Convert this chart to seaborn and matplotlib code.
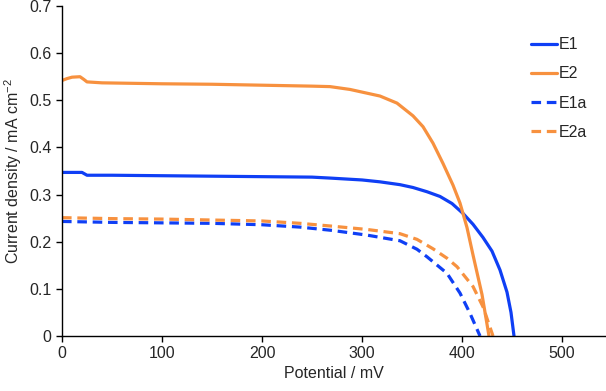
import matplotlib
matplotlib.use('Agg')
import matplotlib.pyplot as plt
import seaborn as sns
import pandas as pd

e1_mv = [0, 10, 20, 25, 50, 100, 150, 200, 250, 268, 300, 318, 338, 351, 365, 378, 390, 401, 411, 421, 430, 438, 445, 449, 452]
e1_j = [0.347, 0.347, 0.347, 0.341, 0.341, 0.340, 0.339, 0.338, 0.337, 0.335, 0.331, 0.327, 0.321, 0.315, 0.306, 0.296, 0.281, 0.260, 0.237, 0.209, 0.180, 0.140, 0.093, 0.050, 0.0]

e2_mv = [0, 5, 10, 18, 22, 25, 40, 100, 150, 200, 250, 268, 288, 318, 335, 351, 361, 371, 381, 391, 398, 405, 411, 420, 427]
e2_j = [0.542, 0.546, 0.549, 0.550, 0.544, 0.539, 0.537, 0.535, 0.534, 0.532, 0.530, 0.529, 0.523, 0.509, 0.494, 0.467, 0.444, 0.409, 0.366, 0.320, 0.282, 0.230, 0.172, 0.088, 0.0]

e1a_mv = [0, 50, 100, 150, 200, 238, 270, 305, 338, 355, 365, 385, 398, 408, 418]
e1a_j = [0.243, 0.241, 0.240, 0.239, 0.236, 0.231, 0.224, 0.214, 0.202, 0.184, 0.168, 0.133, 0.091, 0.048, 0.0]

e2a_mv = [0, 50, 100, 150, 200, 238, 270, 305, 338, 355, 371, 385, 395, 411, 421, 431]
e2a_j = [0.251, 0.249, 0.248, 0.246, 0.244, 0.239, 0.233, 0.226, 0.217, 0.205, 0.185, 0.165, 0.147, 0.105, 0.062, 0.0]

series = ['E1', 'E2', 'E1a', 'E2a']

frames = []
for name, x, y in zip(series, [e1_mv, e2_mv, e1a_mv, e2a_mv], [e1_j, e2_j, e1a_j, e2a_j]):
    frames.append(pd.DataFrame({'Potential': x, 'Current': y, 'series': name}))
df = pd.concat(frames, ignore_index=True)

sns.set_style('ticks')
plt.rcParams['font.family'] = ['Liberation Sans', 'DejaVu Sans']
plt.rcParams['mathtext.fontset'] = 'custom'
plt.rcParams['mathtext.rm'] = 'Liberation Sans'
plt.rcParams['mathtext.it'] = 'Liberation Sans'

blue = '#0F3FF5'
orange = '#F7913F'
palette = {'E1': blue, 'E2': orange, 'E1a': blue, 'E2a': orange}
dashes = {'E1': '', 'E2': '', 'E1a': (3, 1.8), 'E2a': (3, 1.8)}

fig = plt.figure(figsize=(6.06, 3.91), dpi=100)
ax = fig.add_axes([62/606, 55/391, 543/606, 330/391])
sns.lineplot(data=df, x='Potential', y='Current', hue='series', style='series',
             palette=palette, dashes=dashes, hue_order=series, style_order=series,
             estimator=None, sort=False, linewidth=2.3, ax=ax)

ax.set_xlim(0, 543)
ax.set_ylim(0, 0.7)
ax.set_xticks([0, 100, 200, 300, 400, 500])
ax.set_yticks([0, 0.1, 0.2, 0.3, 0.4, 0.5, 0.6, 0.7])
ax.set_yticklabels(['0', '0.1', '0.2', '0.3', '0.4', '0.5', '0.6', '0.7'])
ax.tick_params(labelsize=11.5, length=4, width=1, color='black', direction='out')
for s in ['left', 'bottom']:
    ax.spines[s].set_linewidth(1)
    ax.spines[s].set_color('black')
sns.despine(ax=ax)
ax.set_xlabel('Potential / mV', fontsize=11.5, labelpad=3)
ax.set_ylabel('Current density / mA cm$^{-2}$', fontsize=11.5, labelpad=4)

leg = ax.legend(loc='upper left', bbox_to_anchor=(525/606, 1 - 31/391), bbox_transform=fig.transFigure,
                frameon=False, fontsize=11.5, handlelength=1.6, handletextpad=0.1,
                labelspacing=0.88, borderaxespad=0)

fig.savefig('out.png', dpi=100)
